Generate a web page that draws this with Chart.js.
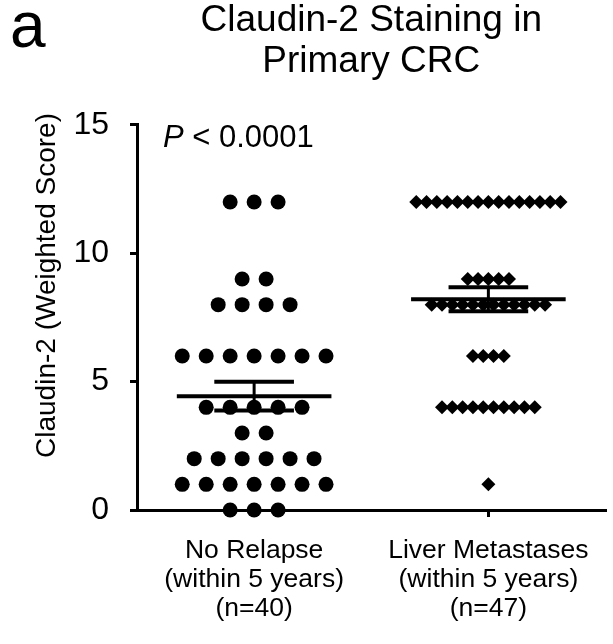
<!DOCTYPE html>
<html>
<head>
<meta charset="utf-8">
<script src="https://cdn.jsdelivr.net/npm/chart.js@4.4.1/dist/chart.umd.min.js"></script>
<style>
  html, body { margin: 0; padding: 0; background: #fff; }
  canvas { display: block; }
</style>
</head>
<body>
<canvas id="myChart" width="613" height="644"></canvas>
<script>
// data
const groupLabels = [
  ['No Relapse', '(within 5 years)', '(n=40)'],
  ['Liver Metastases', '(within 5 years)', '(n=47)']
];
const groupPos = [1, 2];
const noRelapse = [12, 12, 12, 9, 9, 8, 8, 8, 8,
  6, 6, 6, 6, 6, 6, 6, 4, 4, 4, 4, 4, 3, 3,
  2, 2, 2, 2, 2, 2, 1, 1, 1, 1, 1, 1, 1, 0, 0, 0];
const liverMets = [12, 12, 12, 12, 12, 12, 12, 12, 12, 12, 12, 12, 12, 12, 12,
  9, 9, 9, 9, 9, 8, 8, 8, 8, 8, 8, 8, 8, 8, 8, 8, 8,
  6, 6, 6, 6, 4, 4, 4, 4, 4, 4, 4, 4, 4, 4, 1];
const yTicks = [0, 5, 10, 15];
const titleLines = ['Claudin-2 Staining in', 'Primary CRC'];
const yTitle = 'Claudin-2 (Weighted Score)';
const pText = ' < 0.0001';

const FONT = "'Liberation Sans', Arial, Helvetica, sans-serif";

// spread equal values side by side, centred on the group
function swarm(values, center, step) {
  var counts = {};
  values.forEach(function(v) { counts[v] = (counts[v] || 0) + 1; });
  var pts = [];
  Object.keys(counts).forEach(function(k) {
    var n = counts[k];
    for (var i = 0; i < n; i++) {
      pts.push({ x: center + (i - (n - 1) / 2) * step, y: +k });
    }
  });
  return pts;
}

function stats(v) {
  var n = v.length;
  var m = v.reduce(function(a, b) { return a + b; }, 0) / n;
  var ss = v.reduce(function(a, b) { return a + (b - m) * (b - m); }, 0);
  return { m: m, se: Math.sqrt(ss / (n - 1)) / Math.sqrt(n) };
}

function lineSet(pts, w) {
  return {
    type: 'scatter', data: pts, showLine: true, borderColor: '#000',
    borderWidth: w, pointRadius: 0, clip: false, order: 0
  };
}

function errorSets(values, c) {
  var s = stats(values);
  return [
    lineSet([{ x: c - 0.33, y: s.m }, { x: c + 0.33, y: s.m }], 4),
    lineSet([{ x: c - 0.17, y: s.m + s.se }, { x: c + 0.17, y: s.m + s.se }], 4),
    lineSet([{ x: c - 0.17, y: s.m - s.se }, { x: c + 0.17, y: s.m - s.se }], 4),
    lineSet([{ x: c, y: s.m - s.se }, { x: c, y: s.m + s.se }], 3)
  ];
}

var datasets = []
  .concat(errorSets(noRelapse, groupPos[0]))
  .concat(errorSets(liverMets, groupPos[1]));

datasets.push({
  type: 'scatter', data: swarm(noRelapse, groupPos[0], 0.1023),
  pointStyle: 'circle', pointRadius: 7.5, pointHoverRadius: 7.5,
  backgroundColor: '#000', borderWidth: 0, clip: false, order: 2
});
datasets.push({
  type: 'scatter', data: swarm(liverMets, groupPos[1], 0.044),
  pointStyle: 'rectRot', pointRadius: 7, pointHoverRadius: 7,
  backgroundColor: '#000', borderWidth: 0, clip: false, order: 2
});

// panel letter, P value and the y title
const textPlugin = {
  id: 'extraText',
  afterDraw: function(chart) {
    var ctx = chart.ctx;
    ctx.save();
    ctx.fillStyle = '#000';
    ctx.textBaseline = 'alphabetic';
    ctx.textAlign = 'left';
    ctx.font = '64px ' + FONT;
    ctx.fillText('a', 10, 47);

    ctx.font = 'italic 31px ' + FONT;
    ctx.fillText('P', 163, 147);
    var pw = ctx.measureText('P').width;
    ctx.font = '31px ' + FONT;
    ctx.fillText(pText, 163 + pw, 147);

    ctx.translate(47, 285.5);
    ctx.rotate(-Math.PI / 2);
    ctx.textAlign = 'center';
    ctx.textBaseline = 'middle';
    ctx.font = '28px ' + FONT;
    ctx.fillText(yTitle, 0, 0);
    ctx.restore();
  }
};

var canvas = document.getElementById('myChart');
var chartInstance = new Chart(canvas, {
  type: 'scatter',
  data: { datasets: datasets },
  options: {
    responsive: false,
    animation: false,
    events: [],
    layout: { padding: { left: 0, right: 3, top: 0, bottom: 0 } },
    plugins: {
      legend: { display: false },
      tooltip: { enabled: false },
      title: {
        display: true,
        fullSize: false,
        text: titleLines,
        color: '#000',
        font: { family: FONT, size: 37, weight: 'normal', lineHeight: 1.108 },
        padding: { top: 0, bottom: 43 }
      }
    },
    scales: {
      x: {
        type: 'linear',
        min: 0.5, max: 2.5,
        afterBuildTicks: function(scale) {
          scale.ticks = groupPos.map(function(v) { return { value: v }; });
        },
        afterFit: function(scale) { scale.height = 134; },
        ticks: {
          callback: function(v) { return groupLabels[groupPos.indexOf(v)]; },
          color: '#000',
          padding: 18.7,
          maxRotation: 0,
          font: { family: FONT, size: 26.5, lineHeight: 1.1 }
        },
        grid: { display: true, drawOnChartArea: false, drawTicks: true, tickLength: 7, color: '#000', lineWidth: 3 },
        border: { display: true, color: '#000', width: 3 }
      },
      y: {
        min: 0, max: 15,
        afterBuildTicks: function(scale) {
          scale.ticks = yTicks.map(function(v) { return { value: v }; });
        },
        afterFit: function(scale) { scale.width = 137; },
        ticks: {
          color: '#000',
          padding: 21,
          font: { family: FONT, size: 32 }
        },
        grid: { display: true, drawOnChartArea: false, drawTicks: true, tickLength: 7, color: '#000', lineWidth: 3 },
        border: { display: true, color: '#000', width: 3 }
      }
    }
  },
  plugins: [textPlugin]
});
</script>
</body>
</html>
